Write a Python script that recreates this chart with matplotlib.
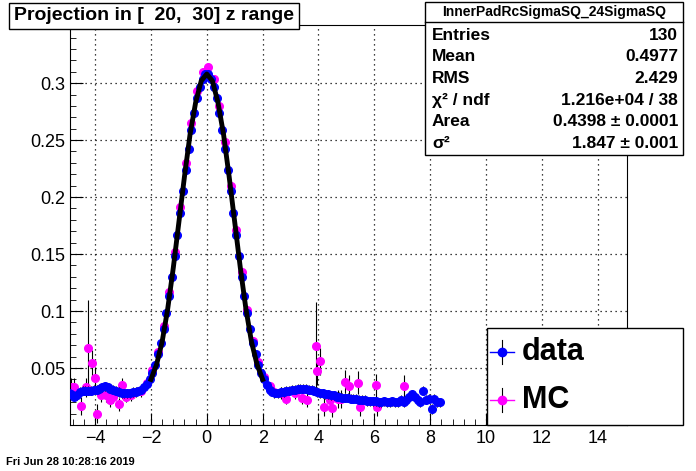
import matplotlib
matplotlib.use("Agg")
import matplotlib.pyplot as plt
from matplotlib.ticker import MultipleLocator
from matplotlib.lines import Line2D

plt.rcParams["font.family"] = ["Liberation Sans", "DejaVu Sans"]

# data histogram (bin centres from -4.95, width 0.1)
x_start = -4.95
bin_width = 0.1
data_y = [
    .028, .027, .025, .026, .029, .030, .030, .030, .030, .031,
    .031, .032, .033, .034, .033, .032, .031, .030, .029, .028,
    .028, .028, .028, .029, .029, .030, .031, .033, .036, .040,
    .046, .053, .062, .072, .084, .098, .113, .130, .148, .167,
    .186, .205, .224, .242, .259, .274, .287, .297, .304, .308,
    .308, .304, .297, .287, .274, .259, .242, .224, .205, .186,
    .167, .148, .130, .113, .098, .084, .072, .062, .053, .046,
    .040, .035, .031, .029, .028, .028, .029, .029, .030, .030,
    .031, .031, .032, .032, .032, .032, .031, .031, .030, .029,
    .028, .028, .027, .027, .026, .026, .025, .025, .024, .024,
    .024, .023, .023, .023, .022, .022, .022, .021, .021, .021,
    .021, .020, .020, .021, .020, .020, .021, .020, .020, .022,
    .020, .022, .025, .027, .025, .022, .020, .030, .022, .023,
    .014, .023, .020, .020,
]
data_err = [0.004 if abs(x_start + i * bin_width) > 2.5 else 0.002
            for i in range(len(data_y))]

# MC points
mc_x = [-4.87, -4.75, -4.5, -4.33, -4.25, -4.12, -4.02, -3.95, -3.8, -3.6,
        -3.47, -3.35, -3.15, -3.05, -2.9, -2.7, -2.37, -2.15, -1.95, -1.75,
        -1.55, -1.35, -1.15, -0.95, -0.75, -0.55, -0.35, -0.15, 0.05, 0.25,
        0.45, 0.65, 0.85, 1.05, 1.25, 1.45, 1.65, 1.85, 2.05, 2.25,
        2.4, 2.65, 2.85, 3.15, 3.4, 3.6, 3.9, 3.95, 4.05, 4.2,
        4.4, 4.5, 4.7, 4.8, 4.95, 5.1, 5.4, 5.5, 6.05, 6.1, 7.05]
mc_y = [.033, .033, .017, .033, .068, .054, .041, .010, .026, .026,
        .022, .025, .018, .035, .025, .026, .030, .037, .048, .064,
        .087, .117, .152, .191, .230, .265, .293, .310, .314, .304,
        .280, .248, .210, .171, .134, .101, .074, .055, .042, .034,
        .029, .028, .023, .028, .024, .022, .069, .047, .056, .016,
        .022, .015, .023, .023, .038, .034, .037, .016, .035, .016, .034]
mc_err = [.008, .008, .008, .008, .042, .012, .010, .008, .006, .006,
          .006, .006, .006, .006, .005, .005, .005, .003, .003, .003,
          .003, .003, .003, .003, .003, .003, .003, .003, .003, .003,
          .003, .003, .003, .003, .003, .003, .003, .003, .003, .004,
          .005, .005, .005, .005, .006, .006, .039, .012, .012, .008,
          .008, .008, .008, .008, .010, .010, .010, .008, .010, .008, .010]

# fit curve
fit_x = [-2.0, -1.8, -1.6, -1.4, -1.2, -1.0, -0.8, -0.6, -0.4, -0.2, 0.0,
         0.2, 0.4, 0.6, 0.8, 1.0, 1.2, 1.4, 1.6, 1.8, 2.0]
fit_y = [.040, .053, .073, .102, .138, .178, .218, .255, .283, .302, .308,
         .302, .283, .255, .218, .178, .138, .102, .073, .053, .040]

fig = plt.figure(figsize=(6.96, 4.71), dpi=100)
ax = fig.add_axes([70 / 696, 46 / 471, 557 / 696, 400 / 471])

data_x = [x_start + i * bin_width for i in range(len(data_y))]
ax.errorbar(mc_x, mc_y, yerr=mc_err, fmt="o", color="#ff00ff", ecolor="black",
            elinewidth=0.8, markersize=5.5, zorder=2)
ax.errorbar(data_x, data_y, yerr=data_err, fmt="o", color="#0000ff", ecolor="black",
            elinewidth=0.8, markersize=5.5, zorder=3)
ax.plot(fit_x, fit_y, color="black", linewidth=3.5, zorder=4)

ax.set_xlim(-4.9, 15.05)
ax.set_ylim(0, 0.351)
ax.xaxis.set_minor_locator(MultipleLocator(0.4))
ax.yaxis.set_minor_locator(MultipleLocator(0.01))
ax.tick_params(which="both", direction="in", labelsize=13)
ax.tick_params(which="major", length=9)
ax.tick_params(which="minor", length=4)
ax.set_yticks([0.05, 0.1, 0.15, 0.2, 0.25, 0.3])
ax.set_yticklabels(["0.05", "0.1", "0.15", "0.2", "0.25", "0.3"])
ax.set_xticks([-4, -2, 0, 2, 4, 6, 8, 10, 12, 14])
ax.grid(True, which="major", color="black", linestyle=(0, (1, 3)), linewidth=0.9)
ax.set_axisbelow(True)

# title box
fig.text(14 / 696, 1 - 16 / 471, "Projection in [  20,  30] z range",
         fontsize=14, fontweight="bold", va="center", ha="left",
         bbox=dict(boxstyle="square,pad=0.25", facecolor="white",
                   edgecolor="black", linewidth=1))

# stats box
sx0, sy0, sx1, sy1 = 425 / 696, 1 - 155 / 471, 683 / 696, 1 - 2 / 471
box = plt.Rectangle((sx0, sy0), sx1 - sx0, sy1 - sy0, transform=fig.transFigure,
                    facecolor="white", edgecolor="black", linewidth=1, zorder=5)
fig.add_artist(box)
fig.add_artist(Line2D([sx0, sx1], [1 - 22 / 471] * 2, transform=fig.transFigure,
                      color="black", linewidth=1, zorder=6))
fig.text((sx0 + sx1) / 2, 1 - 12 / 471, "InnerPadRcSigmaSQ_24SigmaSQ",
         fontsize=10, fontweight="bold", ha="center", va="center", zorder=7)
stat_names = ["Entries", "Mean", "RMS", "χ² / ndf", "Area", "σ²"]
stat_vals = ["130", "0.4977", "2.429", "1.216e+04 / 38",
             "0.4398 ± 0.0001", "1.847 ± 0.001"]
for i, (n, v) in enumerate(zip(stat_names, stat_vals)):
    yy = 1 - (35 + i * 21.7) / 471
    fig.text(432 / 696, yy, n, fontsize=12.5, fontweight="bold", va="center", zorder=7)
    fig.text(678 / 696, yy, v, fontsize=12.5, fontweight="bold", va="center",
             ha="right", zorder=7)

# legend box
lx0, ly0, lx1, ly1 = 487 / 696, 46 / 471, 683 / 696, 143 / 471
fig.add_artist(plt.Rectangle((lx0, ly0), lx1 - lx0, ly1 - ly0,
                             transform=fig.transFigure, facecolor="white",
                             edgecolor="black", linewidth=1, zorder=5))
for label, col, yy in [("data", "#0000ff", 1 - 352 / 471), ("MC", "#ff00ff", 1 - 400 / 471)]:
    fig.add_artist(Line2D([502 / 696], [yy], marker="o", color=col, markersize=6,
                          transform=fig.transFigure, zorder=7))
    fig.add_artist(Line2D([502 / 696] * 2, [yy - 12 / 471, yy + 12 / 471],
                          color="black", linewidth=0.8, transform=fig.transFigure,
                          zorder=6))
    fig.add_artist(Line2D([490 / 696, 514 / 696], [yy] * 2, color=col,
                          linewidth=1, transform=fig.transFigure, zorder=6))
    fig.text(522 / 696, yy, label, fontsize=22, fontweight="bold", va="center", zorder=7)

fig.text(6 / 696, 1 - 462 / 471, "Fri Jun 28 10:28:16 2019", fontsize=8,
         fontweight="bold", va="center")

fig.savefig("out.png", dpi=100)
